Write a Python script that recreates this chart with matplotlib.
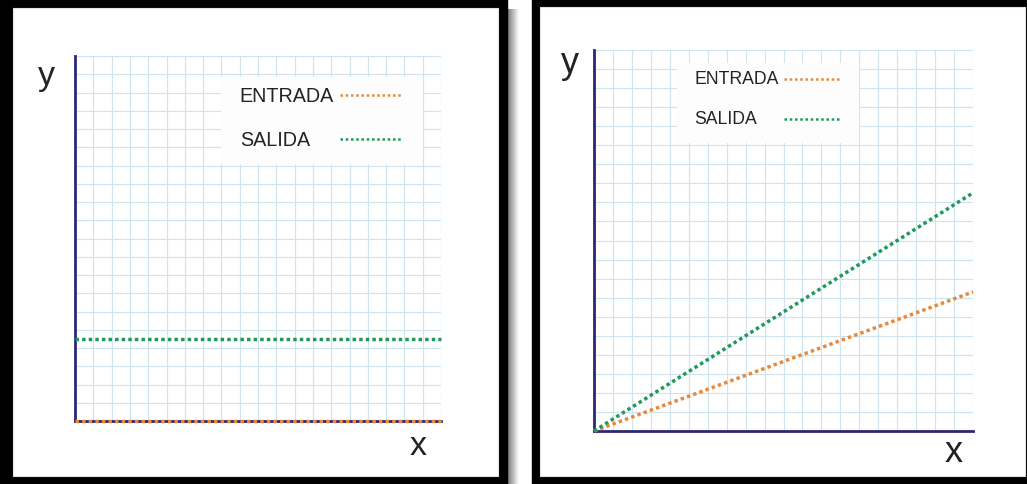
import numpy as np
import matplotlib
matplotlib.use("Agg")
import matplotlib.pyplot as plt
from matplotlib.patches import Rectangle
from matplotlib.lines import Line2D

plt.rcParams['font.family'] = ['Liberation Sans', 'DejaVu Sans']

# datos (unidades de cuadricula, 20 x 20)
x_vals = [0, 20]
entrada_izq = [0, 0]
salida_izq = [4.5, 4.5]
entrada_der = [0, 7.3]
salida_der = [0, 12.5]
etiquetas = ["ENTRADA", "SALIDA"]

c_entrada = "#e8893b"
c_salida = "#1f9a5c"
c_eje = "#2c2775"
c_grid = "#cfe4ef"
c_texto = "#232323"

W, H = 1027, 485
fig = plt.figure(figsize=(W / 100, H / 100), dpi=100, facecolor="white")

# fondo: marcos negros, sombra
bg = fig.add_axes([0, 0, 1, 1])
bg.set_xlim(0, W)
bg.set_ylim(H, 0)
bg.axis("off")
bg.add_patch(Rectangle((0, 0), 507, 485, color="black"))
bg.add_patch(Rectangle((13, 9), 485, 468, facecolor="white", edgecolor="#e2e2e2", lw=0.8))
bg.add_patch(Rectangle((532, 0), 495, 485, color="black"))
bg.add_patch(Rectangle((540, 8), 485, 469, facecolor="white", edgecolor="#e2e2e2", lw=0.8))
grad = np.linspace(0.45, 1.0, 50).reshape(1, -1)
bg.imshow(grad, cmap="gray", vmin=0, vmax=1, extent=(507, 519, 485, 10), aspect="auto")
bg.set_xlim(0, W)
bg.set_ylim(H, 0)


def pixel_axes(x0, x1, y0, y1):
    return fig.add_axes([x0 / W, 1 - y1 / H, (x1 - x0) / W, (y1 - y0) / H])


def panel(ax, entrada, salida, caja, txt_x, txt_y, lin_x, fs, lab_y, lab_x, fs_lab):
    ax.set_xlim(0, 20)
    ax.set_ylim(0, 20)
    ax.set_xticks(np.arange(0, 21))
    ax.set_yticks(np.arange(0, 21))
    ax.tick_params(length=0, labelbottom=False, labelleft=False)
    ax.grid(True, color=c_grid, lw=0.85)
    ax.set_axisbelow(True)
    ax.set_facecolor("none")
    for s in ["top", "right"]:
        ax.spines[s].set_visible(False)
    for s in ["left", "bottom"]:
        ax.spines[s].set_color(c_eje)
        ax.spines[s].set_linewidth(2.0)
        ax.spines[s].set_zorder(2.5)

    ax.plot(x_vals, entrada, color=c_entrada, lw=2.5, ls=(0, (1, 0.9)), clip_on=False, zorder=4)
    ax.plot(x_vals, salida, color=c_salida, lw=2.5, ls=(0, (1, 0.9)), clip_on=False, zorder=4)

    # leyenda hecha a mano: texto a la izquierda, muestra de linea a la derecha
    bx0, bx1, by0, by1 = caja
    ax.add_patch(Rectangle((bx0, by0), bx1 - bx0, by1 - by0, facecolor="#fdfdfd",
                           edgecolor="none", zorder=3))
    for lab, yy, col in zip(etiquetas, txt_y, [c_entrada, c_salida]):
        ax.text(txt_x, yy, lab, fontsize=fs, color=c_texto, va="center", ha="left", zorder=5)
        ax.add_line(Line2D(lin_x, [yy, yy], color=col, lw=1.8, ls=(0, (1, 1.1)), zorder=5))

    ax.text(lab_y[0], lab_y[1], "y", fontsize=fs_lab, color=c_texto, ha="center",
            va="baseline", clip_on=False)
    ax.text(lab_x[0], lab_x[1], "x", fontsize=fs_lab, color=c_texto, ha="center",
            va="baseline", clip_on=False)


ax1 = pixel_axes(75, 441, 57, 422)
panel(ax1, entrada_izq, salida_izq,
      caja=(8.0, 19.0, 14.1, 18.85), txt_x=9.0, txt_y=[17.86, 15.45],
      lin_x=[14.5, 17.9], fs=14.2, lab_y=(-1.55, 18.45), lab_x=(18.75, -1.8), fs_lab=24.5)

ax2 = pixel_axes(594, 973, 51, 432)
panel(ax2, entrada_der, salida_der,
      caja=(4.4, 14.0, 15.1, 19.3), txt_x=5.3, txt_y=[18.48, 16.38],
      lin_x=[10.05, 12.95], fs=12.7, lab_y=(-1.25, 18.85), lab_x=(19.0, -1.6), fs_lab=26)

fig.savefig("out.png", dpi=100, facecolor="white")
